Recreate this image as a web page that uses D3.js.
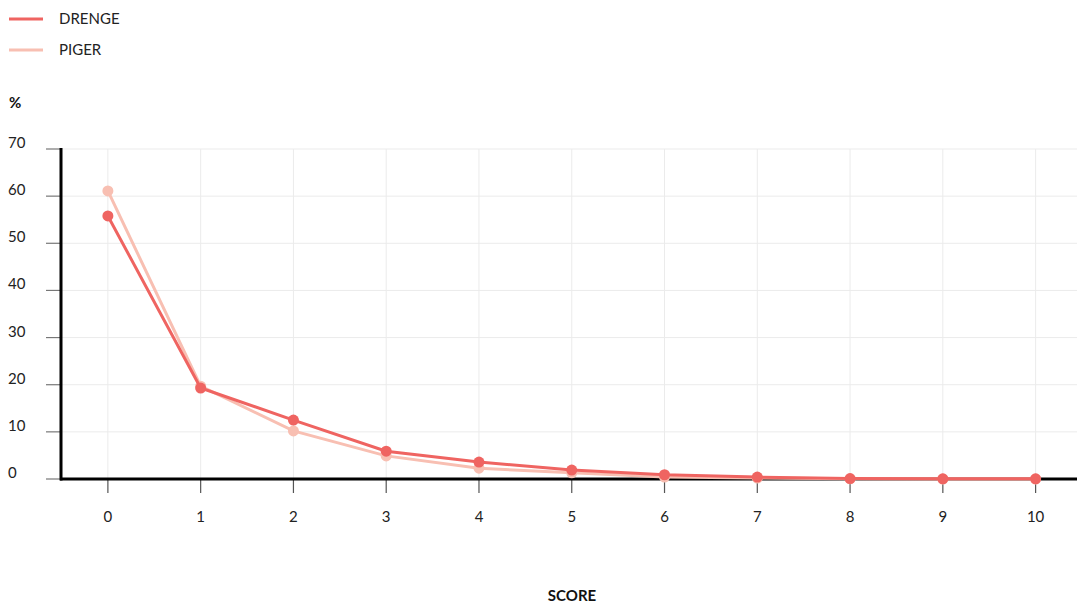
<!DOCTYPE html>
<html><head><meta charset="utf-8">
<script src="https://cdn.jsdelivr.net/npm/d3@7"></script>
<style>
body{margin:0;background:#fff;}
text{font-family:Lato,"Open Sans",sans-serif;}
</style></head>
<body><svg id="c" width="1077" height="606"></svg>
<script>
const scores = [0,1,2,3,4,5,6,7,8,9,10];
const drenge = [55.8,19.3,12.5,5.9,3.6,1.9,0.9,0.4,0.1,0.05,0.05];
const piger  = [61.1,19.7,10.2,4.9,2.3,1.3,0.4,0.2,0.05,0.0,0.0];
const yTicks = [0,10,20,30,40,50,60,70];
const seriesNames = ["DRENGE","PIGER"];
const colors = ["#ef6461","#f8bfb2"];

const svg = d3.select("#c");
const x = d3.scalePoint().domain(scores).range([61.5,1082]).padding(0.5);
const y = d3.scaleLinear().domain([0,70]).range([479,149]);

// gridlines
svg.append("g").selectAll("line").data(yTicks.slice(1)).join("line")
  .attr("x1",61).attr("x2",1077).attr("y1",d=>y(d)).attr("y2",d=>y(d))
  .attr("stroke","#ebebeb").attr("stroke-width",1);
svg.append("g").selectAll("line").data(scores).join("line")
  .attr("x1",d=>x(d)).attr("x2",d=>x(d)).attr("y1",149).attr("y2",479)
  .attr("stroke","#ebebeb").attr("stroke-width",1);

// y axis ticks & labels
const ya = svg.append("g");
ya.selectAll("line").data(yTicks).join("line")
  .attr("x1",46).attr("x2",61).attr("y1",d=>y(d)).attr("y2",d=>y(d))
  .attr("stroke","#777").attr("stroke-width",1.2);
ya.selectAll("text").data(yTicks).join("text")
  .attr("x",8).attr("y",d=>y(d)-1).attr("font-size",15).attr("fill","#222")
  .text(d=>d);

// x axis ticks & labels
const xa = svg.append("g");
xa.selectAll("line").data(scores).join("line")
  .attr("x1",d=>x(d)).attr("x2",d=>x(d)).attr("y1",479).attr("y2",493)
  .attr("stroke","#555").attr("stroke-width",1.2);
xa.selectAll("text").data(scores).join("text")
  .attr("x",d=>x(d)).attr("y",522).attr("text-anchor","middle").attr("font-size",15).attr("fill","#222")
  .text(d=>d);

// axis lines
svg.append("line").attr("x1",61).attr("x2",61).attr("y1",148).attr("y2",480.5).attr("stroke","#000").attr("stroke-width",3);
svg.append("line").attr("x1",60).attr("x2",1077).attr("y1",479).attr("y2",479).attr("stroke","#000").attr("stroke-width",3);

// series (piger drawn first, drenge on top)
const line = d3.line().x((d,i)=>x(scores[i])).y(d=>y(d));
[[piger,colors[1]],[drenge,colors[0]]].forEach(([data,col])=>{
  svg.append("path").datum(data).attr("d",line).attr("fill","none").attr("stroke",col).attr("stroke-width",3);
  svg.append("g").selectAll("circle").data(data).join("circle")
    .attr("cx",(d,i)=>x(scores[i])).attr("cy",d=>y(d)).attr("r",5.5).attr("fill",col);
});

// legend
const lg = svg.append("g");
seriesNames.forEach((n,i)=>{
  lg.append("line").attr("x1",9).attr("x2",43).attr("y1",19+i*31).attr("y2",19+i*31)
    .attr("stroke",colors[i]).attr("stroke-width",3);
  lg.append("text").attr("x",59).attr("y",24+i*31).attr("font-size",15).attr("fill","#222").text(n);
});

svg.append("text").attr("x",9).attr("y",108).attr("font-size",15).attr("font-weight","bold").attr("fill","#111").text("%");
svg.append("text").attr("x",572).attr("y",601).attr("text-anchor","middle").attr("font-size",15).attr("font-weight","bold").attr("fill","#111").text("SCORE");
</script></body></html>
